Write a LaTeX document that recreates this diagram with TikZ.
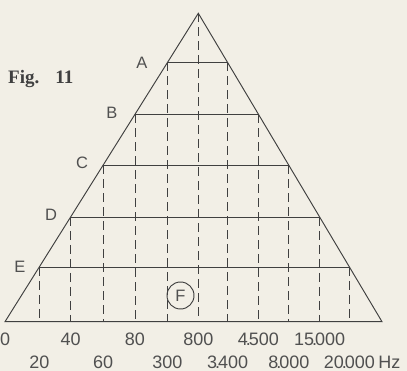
\documentclass[tikz,border=0pt]{standalone}
\usepackage{fontspec}
\setmainfont{Liberation Serif}
\setsansfont{Liberation Sans}
\usetikzlibrary{calc}
\definecolor{paper}{HTML}{F2EFE6}
\definecolor{ink}{HTML}{404040}
\definecolor{txt}{HTML}{505050}
\newcommand\tdot{\kern-2pt.\kern-2pt}
\begin{document}
\begin{tikzpicture}[x=1pt,y=-1pt,
  edgeline/.style={draw=ink, line width=0.95pt},
  dashline/.style={draw=ink, line width=0.85pt, dash pattern=on 9pt off 5pt},
  lbl/.style={font=\sffamily\fontsize{16.5}{16.5}\selectfont, text=txt, inner sep=0pt},
  num/.style={font=\sffamily\fontsize{18}{18}\selectfont, text=txt, inner sep=0pt, anchor=base},
]
\fill[paper] (0,0) rectangle (407,371);
\useasboundingbox (0,0) rectangle (407,371);
% triangle
\coordinate (apex) at (198.3,13.3);
\coordinate (bl) at (5,321.7);
\coordinate (br) at (382,321.7);
\coordinate (row1) at (0,345.5);
\coordinate (row2) at (0,368.5);
\foreach \n/\t in {A/0.1595, B/0.3275, C/0.4929, D/0.6605, E/0.8226} {
  \coordinate (L\n) at ($(apex)!\t!(bl)$);
  \coordinate (R\n) at ($(apex)!\t!(br)$);
}
% dashed verticals
\draw[dashline] (apex) -- (apex |- bl);
\foreach \n in {A,B,C,D,E} {
  \draw[dashline] (L\n) -- (L\n |- bl);
  \draw[dashline] (R\n) -- (R\n |- bl);
}
% horizontals
\foreach \n in {A,B,C,D,E} {
  \draw[edgeline] (L\n) -- (R\n);
}
\draw[edgeline, line join=miter] (bl) -- (apex) -- (br) -- cycle;
% level letters
\node[lbl] (tA) at (142,63) {A};
\node[lbl] (tB) at (112,113) {B};
\node[lbl] (tC) at (82,163) {C};
\node[lbl] (tD) at (51,215) {D};
\node[lbl] (tE) at (20,267) {E};
% circled F
\node[lbl, draw=ink, circle, minimum size=27pt, line width=0.95pt] (F) at (180.5,295.5) {F};
% title
\node[font=\bfseries\fontsize{19}{19}\selectfont, text=ink, anchor=base west, inner sep=0pt] (fig) at (8,84) {Fig.\hspace{16pt}11};
% frequency labels
\node[num, anchor=base west] (f0) at (0,345.5) {0};
\node[num] (f40) at (LD |- row1) {40};
\node[num] (f80) at (LB |- row1) {80};
\node[num] (f800) at (apex |- row1) {800};
\node[num] (f4500) at (RB |- row1) {4\tdot 500};
\node[num] (f15000) at (RD |- row1) {15\tdot 000};
\node[num] (f20) at (LE |- row2) {20};
\node[num] (f60) at (LC |- row2) {60};
\node[num] (f300) at (LA |- row2) {300};
\node[num] (f3400) at (RA |- row2) {3\tdot 400};
\node[num] (f8000) at (RC |- row2) {8\tdot 000};
\node[num] (f20000) at (RE |- row2) {20\tdot 000};
\node[num, anchor=base west] (hz) at ($(f20000.base east)+(3,0)$) {Hz};
\end{tikzpicture}
\end{document}
